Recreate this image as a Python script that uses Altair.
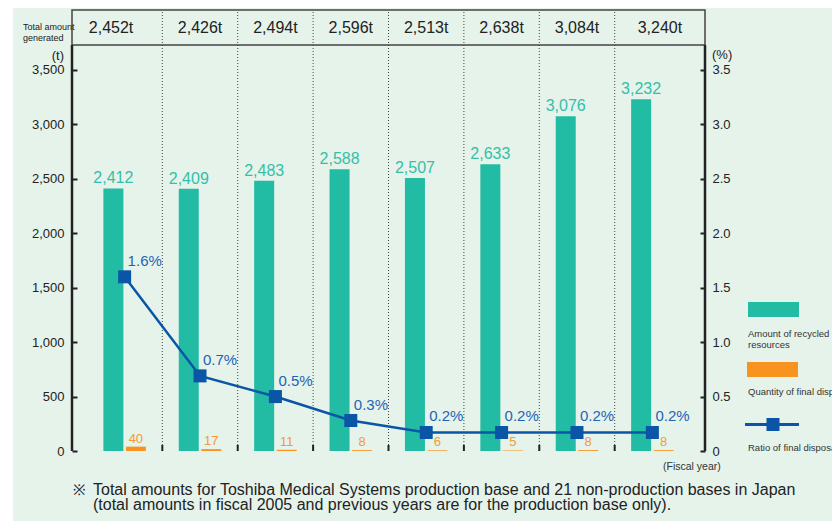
import altair as alt
import pandas as pd

# ---------------- data ----------------
years = ["2000", "2001", "2002", "2003", "2004", "2005", "2006", "2007"]
total_generated = [2452, 2426, 2494, 2596, 2513, 2638, 3084, 3240]
recycled = [2412, 2409, 2483, 2588, 2507, 2633, 3076, 3232]
final_disposal = [40, 17, 11, 8, 6, 5, 8, 8]
ratio_pct = [1.6, 0.69, 0.5, 0.28, 0.17, 0.17, 0.17, 0.17]
left_ticks = [0, 500, 1000, 1500, 2000, 2500, 3000, 3500]
right_ticks = [0, 0.5, 1.0, 1.5, 2.0, 2.5, 3.0, 3.5]
series_names = ["recycled", "disposal"]
legend_labels = ["Amount of recycled\nresources", "Quantity of final disposal", "Ratio of final disposal"]
footnote = ["Total amounts for Toshiba Medical Systems production base and 21 non-production bases in Japan",
            "(total amounts in fiscal 2005 and previous years are for the production base only)."]

# ---------------- style ----------------
W, H = 633, 441
TOP_L = 4051          # left-scale value at the top of the plot area (header top)
HEAD_L = 3730         # left-scale value of the header's bottom line
TOP_R = TOP_L / 1000.0
BG = "#E5F3EB"
GREEN = "#22BCA4"
GREEN_TXT = "#35BFA7"
ORANGE = "#F7931E"
ORANGE_TXT = "#F39A34"
BLUE = "#0A55A6"
BLUE_TXT = "#1F63B6"
DARK = "#222222"
FONT = "Liberation Sans, Arial, sans-serif"

bars_df = pd.DataFrame(
    [{"year": y, "series": "recycled", "value": v} for y, v in zip(years, recycled)]
    + [{"year": y, "series": "disposal", "value": v} for y, v in zip(years, final_disposal)]
)
base_df = pd.DataFrame({"year": years, "total": total_generated, "ratio": ratio_pct})
base_df["total_lbl"] = [f"{t:,}t" for t in total_generated]
sep_df = pd.DataFrame({"year": years[1:]})
one = pd.DataFrame({"a": [0]})

xscale = alt.Scale(type="band", domain=years, paddingInner=0, paddingOuter=0.198)


def X(**kw):
    return alt.X("year:N", scale=xscale, axis=None, **kw)


def ylscale():
    return alt.Scale(domain=[0, TOP_L], nice=False, zero=True)


def yrscale():
    return alt.Scale(domain=[0, TOP_R], nice=False, zero=True)


xoff = alt.XOffset("series:N", sort=series_names,
                   scale=alt.Scale(domain=series_names, paddingInner=0.111, paddingOuter=0.731))

# white strip at the far left edge
strip = alt.Chart(one).mark_rect(color="white").encode(
    x=alt.value(-64), x2=alt.value(-59), y=alt.value(-2), y2=alt.value(H + 70))

# dotted separators between years (through the header)
seps = alt.Chart(sep_df).mark_rule(color="#444", strokeDash=[1, 2], strokeWidth=1).encode(
    x=X(bandPosition=0),
    y=alt.Y(datum=0, scale=ylscale(), axis=None),
    y2=alt.Y2(datum=TOP_L))

# header box
header_box = alt.Chart(one).mark_rect(fill=None, stroke="#444", strokeWidth=1.5, filled=False).encode(
    x=alt.value(0), x2=alt.value(W),
    y=alt.Y(datum=HEAD_L, scale=ylscale(), axis=None), y2=alt.Y2(datum=TOP_L))

bars = alt.Chart(bars_df).mark_bar().encode(
    x=alt.X("year:N", scale=xscale,
            axis=alt.Axis(title=None, labelFontSize=13, labelColor=DARK, ticks=False,
                          domainWidth=2.5, domainColor=DARK, labelPadding=7, labelAngle=0,
                          labelFont=FONT)),
    xOffset=xoff,
    y=alt.Y("value:Q", scale=ylscale(),
            axis=alt.Axis(title=None, values=left_ticks, format=",d", domain=False, grid=False,
                          tickSize=5, tickWidth=2, tickColor=DARK, offset=-5, labelPadding=8,
                          labelFontSize=13, labelColor=DARK, labelFont=FONT)),
    color=alt.Color("series:N", scale=alt.Scale(domain=series_names, range=[GREEN, ORANGE]), legend=None),
)

lbl_green = alt.Chart(bars_df).transform_filter(alt.datum.series == "recycled").mark_text(
    fontSize=16, color=GREEN_TXT, dy=-5, baseline="alphabetic", font=FONT).encode(
    x=X(), xOffset=xoff,
    y=alt.Y("value:Q", scale=ylscale(), axis=None),
    text=alt.Text("value:Q", format=",d"))

lbl_orange = alt.Chart(bars_df).transform_filter(alt.datum.series == "disposal").mark_text(
    fontSize=13, color=ORANGE_TXT, dy=-4, baseline="alphabetic", font=FONT).encode(
    x=X(), xOffset=xoff,
    y=alt.Y("value:Q", scale=ylscale(), axis=None),
    text=alt.Text("value:Q", format=",d"))

# little inward ticks on the bottom axis at year boundaries
bticks = alt.Chart(sep_df).mark_rule(color=DARK, strokeWidth=2).encode(
    x=X(bandPosition=0),
    y=alt.Y(datum=0, scale=ylscale(), axis=None),
    y2=alt.Y2(datum=55))

# axis lines
axis_l = alt.Chart(one).mark_rule(color=DARK, strokeWidth=2.5).encode(
    x=alt.value(0), y=alt.Y(datum=0, scale=ylscale(), axis=None), y2=alt.Y2(datum=HEAD_L))
axis_r = alt.Chart(one).mark_rule(color=DARK, strokeWidth=2.5).encode(
    x=alt.value(W), y=alt.Y(datum=0, scale=ylscale(), axis=None), y2=alt.Y2(datum=HEAD_L))


def head_text(sel, bp):
    return alt.Chart(base_df).transform_filter(sel).mark_text(
        fontSize=16, color=DARK, baseline="middle", font=FONT).encode(
        x=X(bandPosition=bp), y=alt.value(18), text="total_lbl:N")


head1 = head_text(alt.datum.year == years[0], 0.32)
head_mid = head_text((alt.datum.year != years[0]) & (alt.datum.year != years[-1]), 0.5)
head_last = head_text(alt.datum.year == years[-1], 0.6)

line = alt.Chart(base_df).mark_line(color=BLUE, strokeWidth=2.5).encode(
    x=X(),
    y=alt.Y("ratio:Q", scale=yrscale(),
            axis=alt.Axis(orient="right", title=None, values=right_ticks, domain=False, grid=False,
                          tickSize=5, tickWidth=2, tickColor=DARK, offset=-5, labelPadding=7,
                          labelFontSize=13, labelColor=DARK, labelFont=FONT,
                          labelExpr="datum.value == 0 ? '0' : format(datum.value, '.1f')")))
squares = alt.Chart(base_df).mark_square(color=BLUE, size=169, opacity=1).encode(
    x=X(), y=alt.Y("ratio:Q", scale=yrscale(), axis=None))
ratio_lbl = alt.Chart(base_df).transform_calculate(
    lab="format(datum.ratio, '.1f') + '%'").mark_text(
    fontSize=15, color=BLUE_TXT, align="left", baseline="alphabetic", dx=3, dy=-11, font=FONT).encode(
    x=X(), y=alt.Y("ratio:Q", scale=yrscale(), axis=None), text="lab:N")


def txt(text, x, y, size, align="left", color=DARK, baseline="alphabetic", lh=None):
    kw = dict(fontSize=size, font=FONT, align=align, color=color, baseline=baseline)
    if lh is not None:
        kw["lineBreak"] = "\n"
        kw["lineHeight"] = lh
    return alt.Chart(one).mark_text(**kw).encode(
        x=alt.value(x), y=alt.value(y), text=alt.value(text))


annots = [
    txt("Total amount\ngenerated", -49, 20, 9, lh=11),
    txt("(t)", -8, 50, 13, align="right"),
    txt("(%)", 640, 49, 13),
    txt("(Fiscal year)", 591, 460, 10.5, color="#333"),
    txt("※", 1, 485, 15),
    txt(footnote[0], 21, 485, 16),
    txt(footnote[1], 21, 500, 16),
    txt(legend_labels[0], 676, 327, 9.5, lh=10.5, color="#333"),
    txt(legend_labels[1], 676, 385, 9.5, color="#333"),
    txt(legend_labels[2], 676, 441, 9.5, color="#333"),
]

leg_green = alt.Chart(one).mark_rect(color=GREEN).encode(
    x=alt.value(676), x2=alt.value(727), y=alt.value(292), y2=alt.value(307))
leg_orange = alt.Chart(one).mark_rect(color=ORANGE).encode(
    x=alt.value(675), x2=alt.value(726), y=alt.value(352), y2=alt.value(367))
leg_line = alt.Chart(one).mark_rule(color=BLUE, strokeWidth=3).encode(
    x=alt.value(673), x2=alt.value(727), y=alt.value(414.5))
leg_sq = alt.Chart(one).mark_square(color=BLUE, size=169, opacity=1).encode(
    x=alt.value(701), y=alt.value(414.5))

chart = alt.layer(
    strip, seps, header_box, bars, lbl_green, lbl_orange, bticks, axis_l, axis_r,
    head1, head_mid, head_last, line, squares, ratio_lbl,
    leg_green, leg_orange, leg_line, leg_sq, *annots
).resolve_scale(y="independent").properties(
    width=W, height=H,
    padding={"left": 64, "top": 2, "right": 127, "bottom": 70},
    autosize=alt.AutoSizeParams(type="none"),
    background=BG,
).configure_view(stroke=None)

chart.save("out.html", embed_options={"renderer": "svg", "actions": False})
